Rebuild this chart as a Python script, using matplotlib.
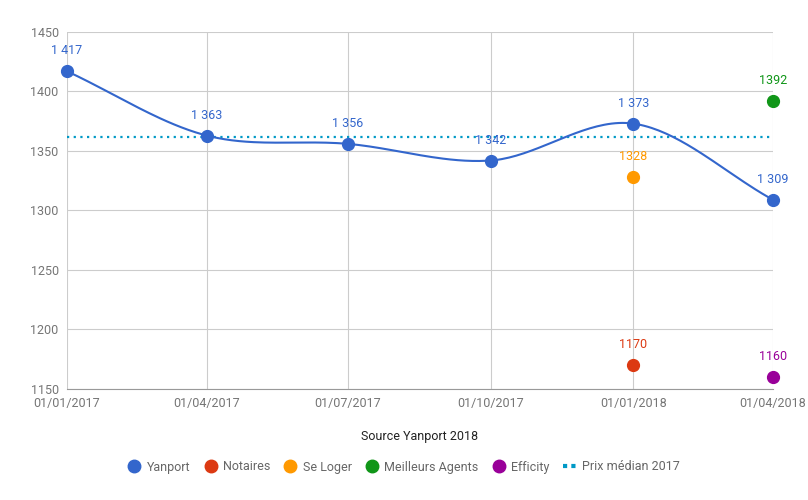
import numpy as np
import matplotlib
matplotlib.use('Agg')
import matplotlib.pyplot as plt
import matplotlib.dates as mdates
from matplotlib.lines import Line2D
from datetime import date

plt.rcParams['font.family'] = ['Roboto', 'DejaVu Sans']

# Data
dates = [date(2017, 1, 1), date(2017, 4, 1), date(2017, 7, 1),
         date(2017, 10, 1), date(2018, 1, 1), date(2018, 4, 1)]
yanport = [1417, 1363, 1356, 1342, 1373, 1309]
yanport_labels = ['1 417', '1 363', '1 356', '1 342', '1 373', '1 309']
others = [  # (name, date, value, colour)
    ('Notaires', date(2018, 1, 1), 1170, '#dc3912'),
    ('Se Loger', date(2018, 1, 1), 1328, '#ff9900'),
    ('Meilleurs Agents', date(2018, 4, 1), 1392, '#109618'),
    ('Efficity', date(2018, 4, 1), 1160, '#990099'),
]
median_2017 = 1362
blue = '#3366cc'
median_col = '#0099c6'

fig = plt.figure(figsize=(8.08, 5), dpi=100)
ax = fig.add_axes([67 / 808, 1 - 389 / 500, (773 - 67) / 808, (389 - 32) / 500])

x = mdates.date2num(dates)
y = np.array(yanport, dtype=float)

# smooth curve (Catmull-Rom through the points)
px = np.concatenate([[2 * x[0] - x[1]], x, [2 * x[-1] - x[-2]]])
py = np.concatenate([[2 * y[0] - y[1]], y, [2 * y[-1] - y[-2]]])
cx, cy = [], []
t = np.linspace(0, 1, 40)
for i in range(1, len(px) - 2):
    p0, p1, p2, p3 = py[i - 1], py[i], py[i + 1], py[i + 2]
    q0, q1, q2, q3 = px[i - 1], px[i], px[i + 1], px[i + 2]
    cy.append(0.5 * (2 * p1 + (-p0 + p2) * t + (2 * p0 - 5 * p1 + 4 * p2 - p3) * t ** 2
                     + (-p0 + 3 * p1 - 3 * p2 + p3) * t ** 3))
    cx.append(0.5 * (2 * q1 + (-q0 + q2) * t + (2 * q0 - 5 * q1 + 4 * q2 - q3) * t ** 2
                     + (-q0 + 3 * q1 - 3 * q2 + q3) * t ** 3))
ax.plot(np.concatenate(cx), np.concatenate(cy), color=blue, lw=1.5, zorder=3, clip_on=False)
ax.plot(x, y, 'o', color=blue, ms=8.5, zorder=4, clip_on=False)
for xi, yi, lab in zip(x, y, yanport_labels):
    ax.annotate(lab, (xi, yi), xytext=(0, 10), textcoords='offset points',
                ha='center', va='bottom', fontsize=9, color=blue, zorder=5)

ax.plot([x[0], x[-1]], [median_2017, median_2017], color=median_col, lw=1.6,
        linestyle=(0, (1, 2)), zorder=2)

for name, d, v, c in others:
    xd = mdates.date2num(d)
    ax.plot(xd, v, 'o', color=c, ms=8.5, zorder=4, clip_on=False)
    ax.annotate(str(v), (xd, v), xytext=(0, 10), textcoords='offset points',
                ha='center', va='bottom', fontsize=9, color=c, zorder=5)

ax.set_xlim(x[0], x[-1])
ax.set_ylim(1150, 1450)
ax.set_yticks(range(1150, 1451, 50))
ax.set_xticks(x)
ax.set_xticklabels([d.strftime('%d/%m/%Y') for d in dates])
ax.grid(True, color='#cccccc', lw=0.8)
ax.set_axisbelow(True)
for s in ['top', 'right', 'left']:
    ax.spines[s].set_visible(False)
ax.spines['bottom'].set_color('#999999')
ax.tick_params(length=0, labelsize=9, colors='#757575', pad=6)
ax.set_xlabel('Source Yanport 2018', fontsize=9, color='#222222', labelpad=14)

handles = [Line2D([], [], marker='o', ls='', color=blue, ms=9, label='Yanport')]
handles += [Line2D([], [], marker='o', ls='', color=c, ms=9, label=n) for n, _, _, c in others]
handles.append(Line2D([], [], color=median_col, lw=3, linestyle=(0, (1, 1)),
                      label='Prix médian 2017'))
fig.legend(handles=handles, loc='center', bbox_to_anchor=(0.5, 1 - 467 / 500),
           ncol=6, frameon=False, fontsize=9, labelcolor='#666666',
           handlelength=1.0, handletextpad=0.5, columnspacing=1.1)

fig.savefig('out.png', dpi=100)
